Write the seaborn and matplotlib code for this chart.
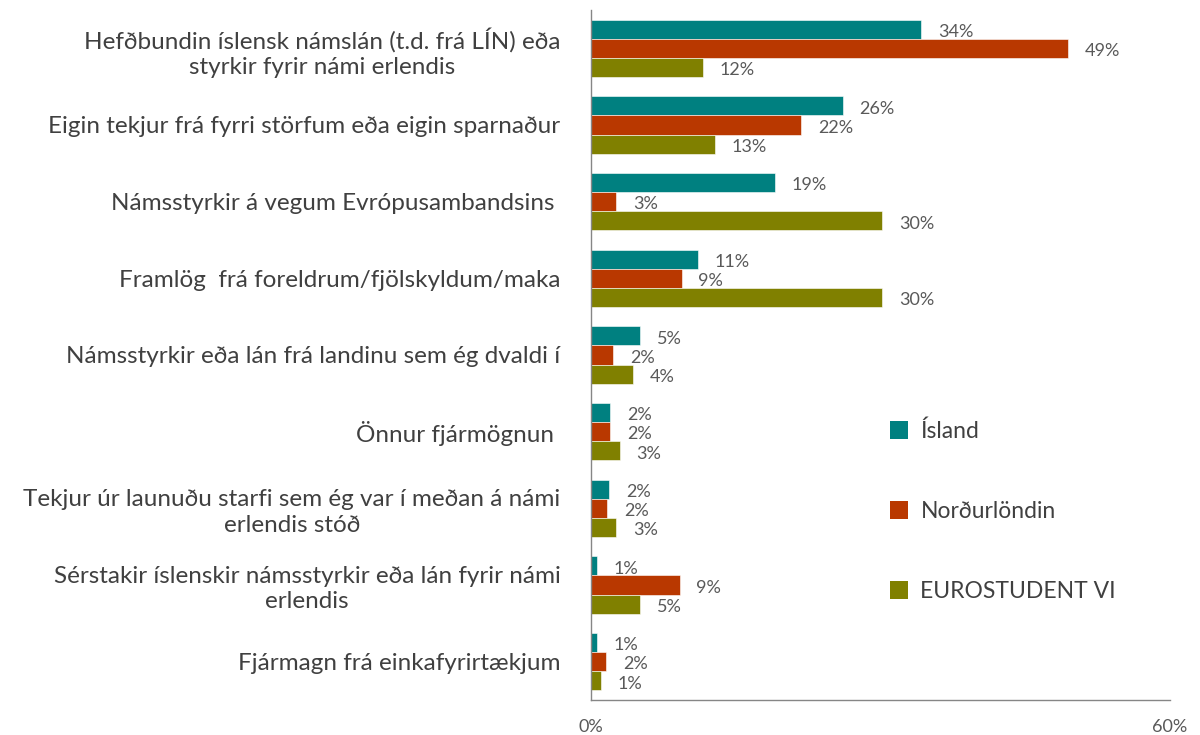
import matplotlib
matplotlib.use("Agg")
import matplotlib.pyplot as plt
import seaborn as sns
import pandas as pd
from matplotlib.ticker import FixedLocator

categories = [
    "Hefðbundin íslensk námslán (t.d. frá LÍN) eða\nstyrkir fyrir námi erlendis",
    "Eigin tekjur frá fyrri störfum eða eigin sparnaður",
    "Námsstyrkir á vegum Evrópusambandsins ",
    "Framlög  frá foreldrum/fjölskyldum/maka",
    "Námsstyrkir eða lán frá landinu sem ég dvaldi í",
    "Önnur fjármögnun ",
    "Tekjur úr launuðu starfi sem ég var í meðan á námi\nerlendis stóð",
    "Sérstakir íslenskir námsstyrkir eða lán fyrir námi\nerlendis",
    "Fjármagn frá einkafyrirtækjum",
]
series_names = ["Ísland", "Norðurlöndin", "EUROSTUDENT VI"]
island = [34.2, 26.1, 19.1, 11.1, 5.1, 2.0, 1.9, 0.6, 0.6]
nordurlondin = [49.4, 21.8, 2.6, 9.4, 2.3, 2.0, 1.7, 9.2, 1.6]
eurostudent = [11.6, 12.8, 30.2, 30.2, 4.4, 3.0, 2.6, 5.1, 1.0]
label_island = ["34%", "26%", "19%", "11%", "5%", "2%", "2%", "1%", "1%"]
label_nordur = ["49%", "22%", "3%", "9%", "2%", "2%", "2%", "9%", "2%"]
label_euro = ["12%", "13%", "30%", "30%", "4%", "3%", "3%", "5%", "1%"]
colors = ["#008080", "#B93800", "#808000"]

rows = []
for name, vals in zip(series_names, [island, nordurlondin, eurostudent]):
    for c, v in zip(categories, vals):
        rows.append({"cat": c, "series": name, "value": v})
df = pd.DataFrame(rows)

sns.set_style("white")
plt.rcParams["font.family"] = ["Lato", "DejaVu Sans"]

fig = plt.figure(figsize=(12, 7.35), dpi=100)
ax = fig.add_axes([591 / 1200, 1 - 700 / 735, (1170 - 591) / 1200, 690 / 735])

sns.barplot(data=df, y="cat", x="value", hue="series", order=categories,
            hue_order=series_names, palette=colors, orient="h", width=0.75,
            ax=ax, edgecolor="white", linewidth=0.4, saturation=1)

text_color = "#404040"
for cont, labs in zip(ax.containers, [label_island, label_nordur, label_euro]):
    anns = ax.bar_label(cont, labels=labs, padding=12, color="#595959", fontsize=13)
    for a in anns:
        a.xyann = (a.xyann[0], -2)

ax.set_xlim(0, 60)
ax.set_ylim(len(categories) - 0.5, -0.5)
ax.set_xticks([0, 60])
ax.set_xticklabels(["0%", "60%"], color="#595959", fontsize=13)
ax.tick_params(axis="x", length=7, width=1, color="#868686", pad=7, direction="out")
ax.tick_params(axis="y", which="major", length=0, pad=22, labelsize=17.5, labelcolor=text_color)
ax.yaxis.set_minor_locator(FixedLocator([i - 0.5 for i in range(len(categories) + 1)]))
ax.tick_params(axis="y", which="minor", length=7, width=1, color="#868686", direction="out")
for lab in ax.get_yticklabels():
    lab.set_multialignment("center")
    lab.set_linespacing(1.25)
ax.set_xlabel("")
ax.set_ylabel("")
for s in ["top", "right"]:
    ax.spines[s].set_visible(False)
for s in ["left", "bottom"]:
    ax.spines[s].set_color("#868686")
    ax.spines[s].set_linewidth(1)

leg = ax.legend(loc="upper left", bbox_to_anchor=(0.48, 0.435), frameon=False,
                fontsize=16.5, labelspacing=2.58, handlelength=0.8, handleheight=0.8,
                handletextpad=0.55, labelcolor=text_color)
for h in leg.legend_handles:
    h.set_edgecolor("none")

fig.savefig("out.png", dpi=100)
